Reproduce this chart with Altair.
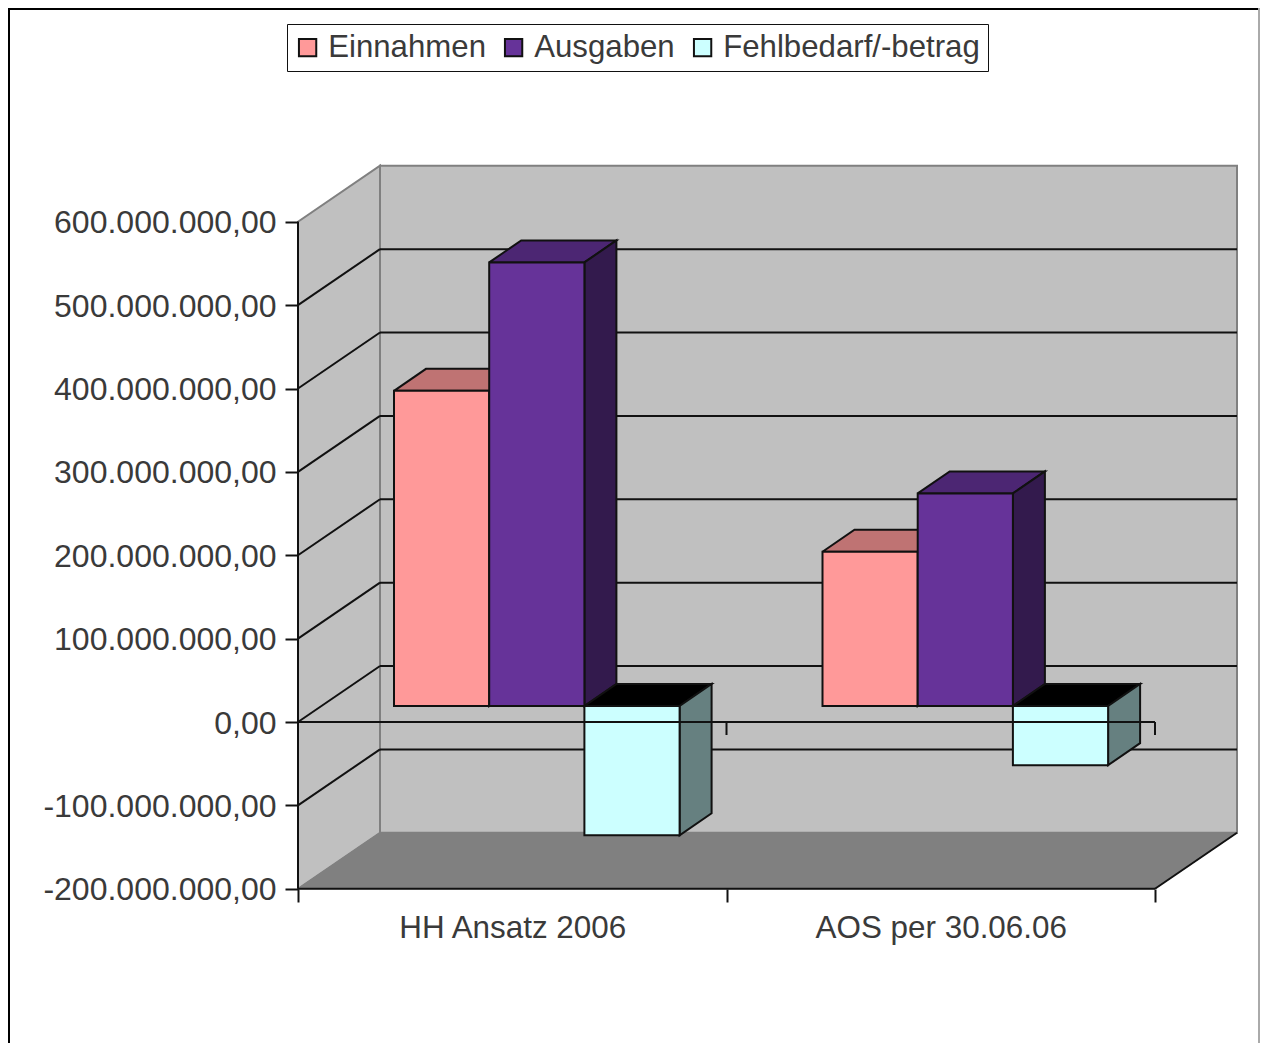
import altair as alt
import pandas as pd

# ---- values
CATEGORIES = ["HH Ansatz 2006", "AOS per 30.06.06"]
SERIES = ["Einnahmen", "Ausgaben", "Fehlbedarf/-betrag"]
EINNAHMEN = [378e6, 185e6]
AUSGABEN = [532e6, 255e6]
FEHLBEDARF = [-155e6, -71e6]
Y_TICKS = [600e6, 500e6, 400e6, 300e6, 200e6, 100e6, 0, -100e6, -200e6]
Y_LABELS = ["600.000.000,00", "500.000.000,00", "400.000.000,00", "300.000.000,00",
            "200.000.000,00", "100.000.000,00", "0,00", "-100.000.000,00", "-200.000.000,00"]

# ---- styles
FRONT = ["#FF9999", "#663399", "#CCFFFF"]
TOP = ["#BF7373", "#4C2673", "#000000"]
SIDE = ["#804D4D", "#331A4D", "#668080"]
WALL = "#C0C0C0"
FLOOR = "#808080"
EDGE = "#808080"
INK = "#111111"
TEXT = "#3A3A3A"
FONT = "Liberation Sans"
FS_Y = 32
FS_X = 31.4
FS_LEG = 31.2

# ---- geometry of the projection, in pixels of the page
PAD = 2
ORIGIN = 8 + PAD
W, H = 1250, 1033
X0_PX, UNIT_PX = 298, 428.5          # category axis start, px per category
Y0_PX, PX_PER_VAL = 722, 83.375 / 1e8  # zero line, px per value unit


def dx(px):
    return px / UNIT_PX


def dv(px):
    return px / PX_PER_VAL


XMIN = dx(ORIGIN - X0_PX)
XMAX = dx(ORIGIN + W - X0_PX)
YMAX = dv(Y0_PX - ORIGIN)
YMIN = dv(Y0_PX - (ORIGIN + H))

WALL_X, WALL_Y = dx(82), dv(56)
BAR_X, BAR_Y = dx(32), dv(22)
START = dx(96)
SHIFT_Y = dv(16)
BAR_W = dx(95.2)

x_lbl = "datum.value == 0.5 ? '%s' : datum.value == 1.5 ? '%s' : ''" % tuple(CATEGORIES)
y_lbl = "%r[indexof(%r, datum.value)]" % (Y_LABELS, [int(t) for t in Y_TICKS])

X = alt.X("x:Q", title=None, scale=alt.Scale(domain=[XMIN, XMAX], nice=False, zero=False),
          axis=alt.Axis(values=[0, 0.5, 1, 1.5, 2], labelExpr=x_lbl, orient="bottom",
                        offset=-(1043 - 889), domain=False, grid=False, zindex=1,
                        tickColor=INK, tickWidth=2, tickSize=13,
                        tickOpacity={"condition": {"test": "datum.value % 1 != 0", "value": 0}, "value": 1},
                        labelFont=FONT, labelFontSize=FS_X, labelColor=TEXT, labelPadding=10,
                        labelFlush=False, labelOverlap=False, labelBound=False, labelLimit=500))
Y = alt.Y("y:Q", title=None, scale=alt.Scale(domain=[YMIN, YMAX], nice=False, zero=False),
          axis=alt.Axis(values=[int(t) for t in Y_TICKS], labelExpr=y_lbl, orient="left",
                        offset=-(X0_PX - ORIGIN), domain=False, grid=False, zindex=1,
                        tickColor=INK, tickWidth=2, tickSize=13, labelOffset=1,
                        labelFont=FONT, labelFontSize=FS_Y, labelColor=TEXT, labelPadding=9,
                        labelFlush=False, labelOverlap=False, labelBound=False, labelLimit=500))


def poly(points, fill, stroke, width=2):
    pts = list(points) + [points[0]]
    df = pd.DataFrame({"x": [p[0] for p in pts], "y": [p[1] for p in pts], "i": range(len(pts))})
    return alt.Chart(df).mark_line(fill=fill, stroke=stroke, strokeWidth=width, strokeJoin="miter",
                                   clip=False).encode(x=X, y=Y, order="i:Q")


def seg(x1, y1, x2, y2, color, width=2):
    df = pd.DataFrame({"x": [x1, x2], "y": [y1, y2], "i": [0, 1]})
    return alt.Chart(df).mark_line(stroke=color, strokeWidth=width).encode(x=X, y=Y, order="i:Q")


layers = []
BOT, TOPV = min(Y_TICKS), max(Y_TICKS)

# walls and floor
layers.append(poly([(0, BOT), (WALL_X, BOT + WALL_Y), (WALL_X, TOPV + WALL_Y), (0, TOPV)], WALL, EDGE))
layers.append(poly([(WALL_X, BOT + WALL_Y), (2 + WALL_X, BOT + WALL_Y), (2 + WALL_X, TOPV + WALL_Y),
                    (WALL_X, TOPV + WALL_Y)], WALL, EDGE))
layers.append(poly([(0, BOT), (2, BOT), (2 + WALL_X, BOT + WALL_Y), (WALL_X, BOT + WALL_Y)], FLOOR, FLOOR, 1))
layers.append(seg(2, BOT, 2 + WALL_X, BOT + WALL_Y, INK))

# gridlines
for t in Y_TICKS[1:-1]:
    layers.append(seg(0, t, WALL_X, t + WALL_Y, INK))
    layers.append(seg(WALL_X, t + WALL_Y, 2 + WALL_X, t + WALL_Y, INK))

# bar tops and sides, then fronts
rows = []
series_values = [EINNAHMEN, AUSGABEN, FEHLBEDARF]
for c in range(len(CATEGORIES)):
    for s, values in enumerate(series_values):
        v = values[c]
        x0 = c + START + s * BAR_W
        x1 = x0 + BAR_W
        hi = max(v, 0) + SHIFT_Y
        lo = min(v, 0) + SHIFT_Y
        layers.append(poly([(x0, hi), (x0 + BAR_X, hi + BAR_Y), (x1 + BAR_X, hi + BAR_Y), (x1, hi)], TOP[s], INK))
        layers.append(poly([(x1, hi), (x1 + BAR_X, hi + BAR_Y), (x1 + BAR_X, lo + BAR_Y), (x1, lo)], SIDE[s], INK))
        rows.append({"x": x0, "x2": x1, "y": hi, "y2": lo, "Reihe": SERIES[s], "Kategorie": CATEGORIES[c]})

fronts = alt.Chart(pd.DataFrame(rows)).mark_rect(stroke=INK, strokeWidth=2).encode(
    x=X, x2="x2:Q", y=Y, y2="y2:Q",
    color=alt.Color("Reihe:N", scale=alt.Scale(domain=SERIES, range=FRONT),
                    legend=alt.Legend(orient="none", legendX=287 - ORIGIN, legendY=24 - ORIGIN,
                                      direction="horizontal", columns=3, title=None,
                                      strokeColor=INK, fillColor="#FFFFFF", padding=8,
                                      symbolType="square", symbolSize=300, symbolStrokeColor=INK,
                                      symbolStrokeWidth=2, labelFont=FONT, labelFontSize=FS_LEG,
                                      labelColor=TEXT, labelLimit=500, labelOffset=5,
                                      columnPadding=14, symbolOffset=-3)),
)
layers.append(fronts)

# axes drawn as lines
layers.append(seg(0, BOT, 0, TOPV, INK))
layers.append(seg(0, BOT, 2, BOT, INK))
layers.append(seg(0, 0, 2, 0, INK))
for tick in [1, 2]:
    layers.append(seg(tick, 0, tick, -dv(13), INK))

# frame of the picture
frame = [
    alt.Chart(pd.DataFrame({"k": [0]})).mark_rule(color="#000000", strokeWidth=2).encode(
        x=alt.value(-PAD), x2=alt.value(W), y=alt.value(-PAD + 1)),
    alt.Chart(pd.DataFrame({"k": [0]})).mark_rule(color="#000000", strokeWidth=2).encode(
        x=alt.value(-PAD + 1), y=alt.value(-PAD), y2=alt.value(H)),
    alt.Chart(pd.DataFrame({"k": [0]})).mark_rule(color="#AAAAAA", strokeWidth=2).encode(
        x=alt.value(W - 1), y=alt.value(-PAD), y2=alt.value(H)),
]
layers.extend(frame)

chart = alt.layer(*layers).properties(
    width=W, height=H,
    padding={"left": PAD, "top": PAD, "right": 0, "bottom": 0},
    autosize=alt.AutoSizeParams(type="none"),
    background="#FFFFFF",
).configure_view(stroke=None)

chart.save("out.html", embed_options={"renderer": "svg", "actions": False})
